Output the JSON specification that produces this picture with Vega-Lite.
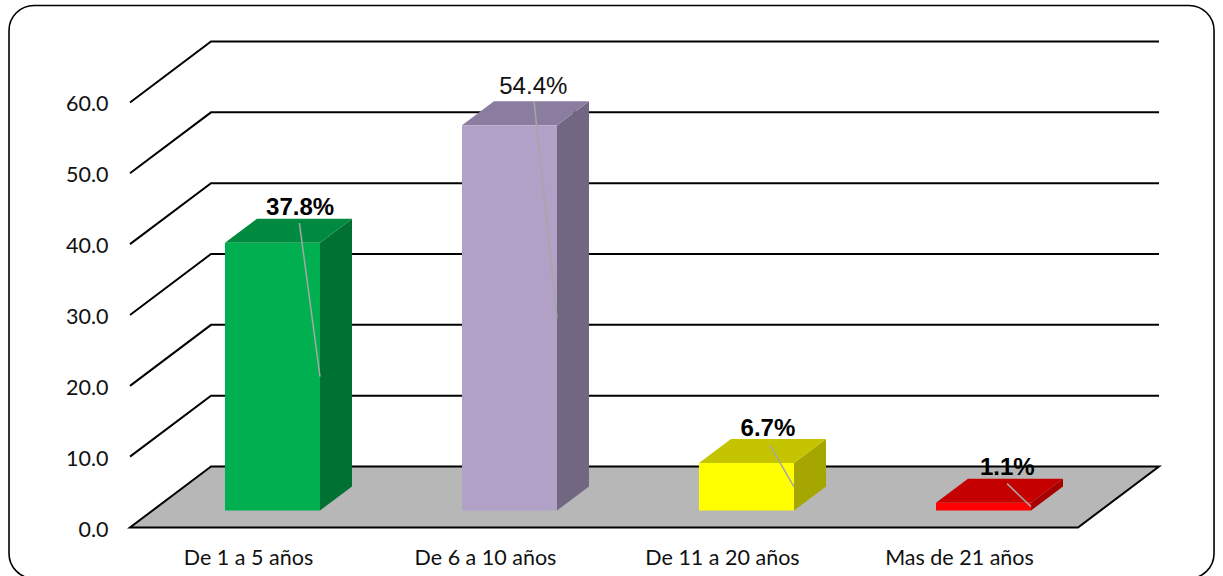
{
"$schema":"https://vega.github.io/schema/vega-lite/v6.json",
"width":1029,"height":486,
"autosize":{"type":"none"},
"padding":{"left":130,"top":41.5,"right":64,"bottom":48.5},
"background":"white",
"config":{"view":{"stroke":null},"font":"Liberation Sans"},
"datasets":{
"barras":[
{"categoria":"De 1 a 5 años","valor":37.8},
{"categoria":"De 6 a 10 años","valor":54.4},
{"categoria":"De 11 a 20 años","valor":6.7},
{"categoria":"Mas de 21 años","valor":1.1}],
"marcas":[{"t":0},{"t":10},{"t":20},{"t":30},{"t":40},{"t":50},{"t":60}]
},
"resolve":{"scale":{"color":"independent"}},
"layer":[
{"data":{"values":[{"marco":"borde"}]},
 "mark":{"type":"rect","filled":false,"stroke":"#000000","strokeWidth":1.6,"cornerRadius":25},
 "encoding":{
  "x":{"datum":-0.5105,"type":"quantitative","axis":null,"scale":{"domain":[0,4.3418],"nice":false,"zero":false}},
  "x2":{"datum":4.574},
  "y":{"datum":73.7,"type":"quantitative","title":null,"scale":{"domain":[0,68.61],"nice":false,"zero":false},
   "axis":{"values":[0,10,20,30,40,50,60],"format":".1f","domain":false,"ticks":false,"grid":false,"labelFont":"Lato","labelFontSize":21.5,"labelColor":"#111111","labelPadding":22,"labelOffset":2.5,"title":null}},
  "y2":{"datum":-7.2}}},
{"data":{"name":"marcas"},
 "transform":[{"filter":"datum.t===0"},{"calculate":"[0,1]","as":"d"},{"flatten":["d"]},
  {"calculate":"datum.d*0.3418","as":"xa"},{"calculate":"4+datum.d*0.3418","as":"xb"},{"calculate":"datum.d*8.61","as":"ya"}],
 "mark":{"type":"area","orient":"horizontal","fill":"#B7B7B7","stroke":"#000000","strokeWidth":2},
 "encoding":{"y":{"field":"ya","type":"quantitative","title":null},"x":{"field":"xa","type":"quantitative","title":null},"x2":{"field":"xb"}}},
{"data":{"name":"marcas"},
 "transform":[{"filter":"datum.t>0"},{"calculate":"[0,1,2]","as":"p"},{"flatten":["p"]},
  {"calculate":"datum.p===0?0:(datum.p===1?0.3418:4.3418)","as":"xl"},{"calculate":"datum.t+(datum.p===0?0:8.61)","as":"yl"}],
 "mark":{"type":"line","stroke":"#000000","strokeWidth":2},
 "encoding":{"x":{"field":"xl","type":"quantitative","title":null},"y":{"field":"yl","type":"quantitative","title":null},"detail":{"field":"t"},"order":{"field":"p"}}},
{"data":{"name":"barras"},
 "transform":[{"window":[{"op":"row_number","as":"n"}]},{"calculate":"[0,1]","as":"d"},{"flatten":["d"]},
  {"calculate":"datum.n-1+0.8017+datum.d*0.135","as":"xs"},{"calculate":"datum.valor+2.4+datum.d*3.39","as":"ys"},{"calculate":"2.4+datum.d*3.39","as":"ys2"}],
 "mark":{"type":"area"},
 "encoding":{"x":{"field":"xs","type":"quantitative","title":null},"y":{"field":"ys","type":"quantitative","title":null},"y2":{"field":"ys2"},
  "color":{"field":"categoria","type":"nominal","legend":null,"scale":{"domain":["De 1 a 5 años","De 6 a 10 años","De 11 a 20 años","Mas de 21 años"],"range":["#007033","#716782","#A6A600","#A60000"]}}}},
{"data":{"name":"barras"},
 "transform":[{"window":[{"op":"row_number","as":"n"}]},{"calculate":"[0,1]","as":"d"},{"flatten":["d"]},
  {"calculate":"datum.n-1+0.4008+datum.d*0.135","as":"xt"},{"calculate":"datum.n-1+0.8017+datum.d*0.135","as":"xt2"},{"calculate":"datum.valor+2.4+datum.d*3.39","as":"yt"}],
 "mark":{"type":"area","orient":"horizontal"},
 "encoding":{"y":{"field":"yt","type":"quantitative","title":null},"x":{"field":"xt","type":"quantitative","title":null},"x2":{"field":"xt2"},
  "color":{"field":"categoria","type":"nominal","legend":null,"scale":{"domain":["De 1 a 5 años","De 6 a 10 años","De 11 a 20 años","Mas de 21 años"],"range":["#008A3F","#8A7DA0","#C4C400","#C40000"]}}}},
{"data":{"name":"barras"},
 "transform":[{"window":[{"op":"row_number","as":"n"}]},
  {"calculate":"datum.n-1+0.4008","as":"xf"},{"calculate":"datum.n-1+0.8017","as":"xf2"},{"calculate":"datum.valor+2.4","as":"yf"},{"calculate":"2.4","as":"yf2"}],
 "mark":{"type":"rect"},
 "encoding":{"x":{"field":"xf","type":"quantitative","title":null},"x2":{"field":"xf2"},"y":{"field":"yf","type":"quantitative","title":null},"y2":{"field":"yf2"},
  "color":{"field":"categoria","type":"nominal","legend":null,"scale":{"domain":["De 1 a 5 años","De 6 a 10 años","De 11 a 20 años","Mas de 21 años"],"range":["#00B050","#B2A1C7","#FFFF00","#FF0000"]}}}},
{"data":{"name":"barras"},
 "transform":[{"window":[{"op":"row_number","as":"n"}]},
  {"calculate":"datum.n-1+0.8017+[-0.087,-0.097,-0.101,-0.101][datum.n-1]","as":"xr"},{"calculate":"datum.n-1+0.8017","as":"xr2"},{"calculate":"datum.valor+2.4+3.39-[0.6,0,0.9,0.7][datum.n-1]","as":"yr"},{"calculate":"datum.valor/2+2.4","as":"yr2"}],
 "mark":{"type":"rule","stroke":"#A6A6A6","strokeWidth":1.5},
 "encoding":{"x":{"field":"xr","type":"quantitative","title":null},"x2":{"field":"xr2"},"y":{"field":"yr","type":"quantitative","title":null},"y2":{"field":"yr2"}}},
{"data":{"name":"barras"},
 "transform":[{"window":[{"op":"row_number","as":"n"}]},{"filter":"datum.valor!==54.4"},
  {"calculate":"datum.n-1+0.8017+[-0.084,-0.1,-0.11,-0.1][datum.n-1]","as":"xe"},{"calculate":"datum.valor+2.4+3.39","as":"ye"},{"calculate":"format(datum.valor,'.1f')+'%'","as":"etiqueta"}],
 "mark":{"type":"text","font":"Liberation Sans","fontSize":24,"fontWeight":"bold","fill":"#000000","baseline":"alphabetic","align":"center","dy":-3.5},
 "encoding":{"x":{"field":"xe","type":"quantitative","title":null},"y":{"field":"ye","type":"quantitative","title":null},"text":{"field":"etiqueta"}}},
{"data":{"name":"barras"},
 "transform":[{"window":[{"op":"row_number","as":"n"}]},{"filter":"datum.valor===54.4"},
  {"calculate":"datum.n-1+0.8017-0.1","as":"xe"},{"calculate":"datum.valor+2.4+3.39","as":"ye"},{"calculate":"format(datum.valor,'.1f')+'%'","as":"etiqueta"}],
 "mark":{"type":"text","font":"Liberation Sans","fontSize":24,"fontWeight":"normal","fill":"#111111","baseline":"alphabetic","align":"center","dy":-7},
 "encoding":{"x":{"field":"xe","type":"quantitative","title":null},"y":{"field":"ye","type":"quantitative","title":null},"text":{"field":"etiqueta"}}},
{"data":{"name":"barras"},
 "transform":[{"window":[{"op":"row_number","as":"n"}]},{"calculate":"datum.n-1+0.5","as":"xc"}],
 "mark":{"type":"text","font":"Lato","fontSize":21.5,"fill":"#111111","baseline":"middle","align":"center","dy":31},
 "encoding":{"x":{"field":"xc","type":"quantitative","title":null},"y":{"datum":0,"type":"quantitative","title":null},"text":{"field":"categoria"}}}
]
}
